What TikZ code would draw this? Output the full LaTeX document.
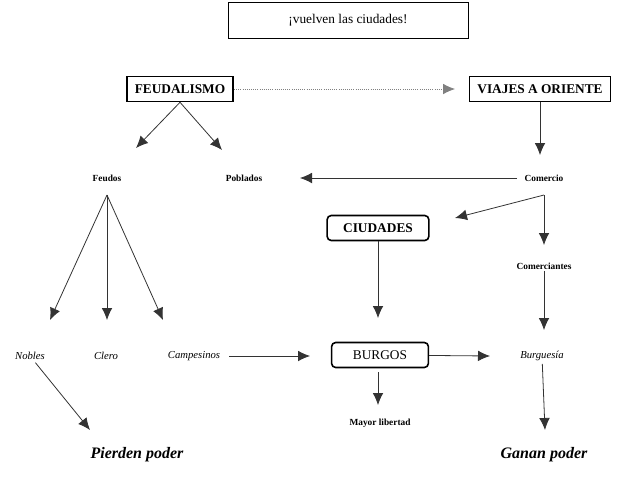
\documentclass[tikz,border=0pt]{standalone}
\usepackage{fontspec}
\setmainfont{Liberation Serif}
\usetikzlibrary{arrows.meta}
\begin{document}
\begin{tikzpicture}[x=0.75pt,y=-0.75pt,
  arr/.style={-{Latex[length=9pt,width=8pt]},line width=0.6pt,draw=black!80},
  sq/.style={draw,line width=1.2pt,inner xsep=6pt,inner ysep=6pt,font=\bfseries},
  rd/.style={draw,line width=1.2pt,rounded corners=3pt,inner xsep=12pt,inner ysep=6pt,font=\bfseries},
  sm/.style={font=\bfseries\scriptsize,inner sep=1pt},
  it/.style={font=\itshape\footnotesize,inner sep=2pt},
  big/.style={font=\bfseries\itshape\large,inner sep=1pt}]
\useasboundingbox (0,0) rectangle (625,480);
\node[draw,line width=0.6pt,minimum width=240*0.75pt,minimum height=36*0.75pt] (t) at (348,20) {¡vuelven las ciudades!};
\node[sq] (f) at (180,89) {FEUDALISMO};
\node[sq] (v) at (540,89) {VIAJES A ORIENTE};
\node[sm] (fe) at (107,178) {Feudos};
\node[sm] (po) at (244,178) {Poblados};
\node[sm] (co) at (544,178) {Comercio};
\node[rd] (ci) at (378,228) {CIUDADES};
\node[sm] (cm) at (544,266) {Comerciantes};
\node[it] (no) at (30,356) {Nobles};
\node[it] (cl) at (106,356) {Clero};
\node[it] (ca) at (194,356) {Campesinos};
\node[rd,font=\normalfont,inner xsep=16pt] (bu) at (380,355) {BURGOS};
\node[it] (bg) at (542,356) {Burguesía};
\node[sm] (ml) at (380,423) {Mayor libertad};
\node[big] (pp) at (137,455) {Pierden poder};
\node[big] (gp) at (544,455) {Ganan poder};
\coordinate (a1) at (136,148); \coordinate (a2) at (222,150);
\coordinate (b1) at (50,320); \coordinate (b2) at (107,320); \coordinate (b3) at (163,320);
\draw[arr,densely dotted,draw=black!50] (f) -- (455,89);
\draw[arr] (f.south) -- (a1);
\draw[arr] (f.south) -- (a2);
\draw[arr] (v) -- (540,155);
\draw[arr] (co.west) ++(-6,0) -- (300,178);
\draw[arr] (544,195) -- (455,218);
\draw[arr] (544,195) -- (544,245);
\draw[arr] (cm) -- (544,330);
\draw[arr] (ci) -- (378,318);
\draw[arr] (107,195) -- (b1);
\draw[arr] (107,195) -- (b2);
\draw[arr] (107,195) -- (b3);
\draw[arr] (ca.east) ++(6,0) -- (310,356);
\draw[arr] (bu) -- (490,356);
\draw[arr] (378,372) -- (378,405);
\draw[arr] (no) -- (90,430);
\draw[arr] (bg) -- (545,430);
\end{tikzpicture}
\end{document}
